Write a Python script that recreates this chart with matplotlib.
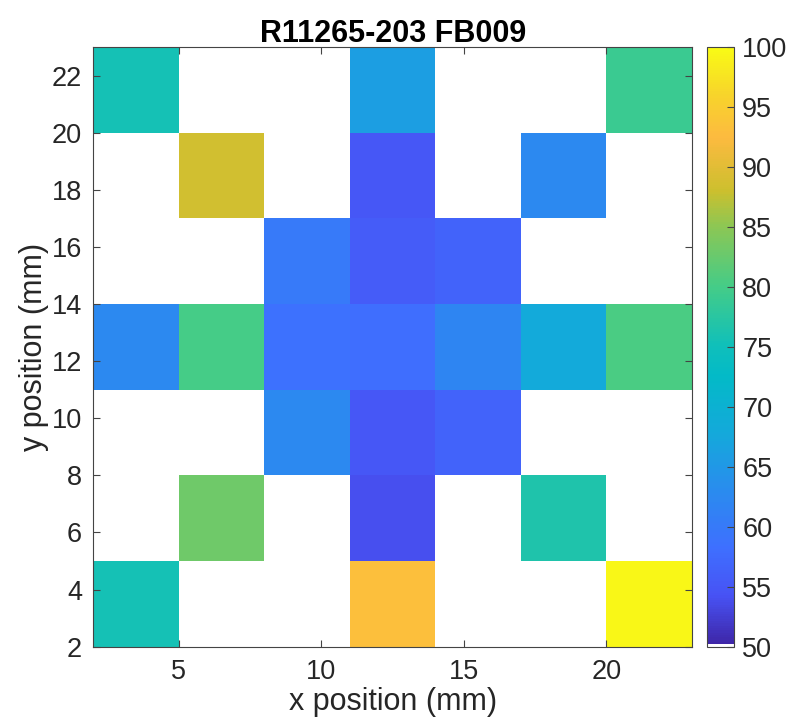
import numpy as np
import matplotlib
matplotlib.use('Agg')
import matplotlib.pyplot as plt
from matplotlib.colors import LinearSegmentedColormap, ListedColormap

plt.rcParams['font.family'] = ['Liberation Sans', 'DejaVu Sans']

# cell edges (mm)
x_edges = [2, 5, 8, 11, 14, 17, 20, 23]
y_edges = [2, 5, 8, 11, 14, 17, 20, 23]

nan = np.nan
# rows from bottom (y=2-5) to top (y=20-23), columns from left to right
row_y2 = [75.5, nan, nan, 93, nan, nan, 99.5]
row_y5 = [nan, 83, nan, 54, nan, 76.5, nan]
row_y8 = [nan, nan, 62.5, 55, 56.5, nan, nan]
row_y11 = [62.5, 80, 58.5, 58, 62, 68, 80.5]
row_y14 = [nan, nan, 60, 55.5, 56.5, nan, nan]
row_y17 = [nan, 88.5, nan, 55, nan, 62.5, nan]
row_y20 = [75.5, nan, nan, 66, nan, nan, 79]

values = np.array([row_y2, row_y5, row_y8, row_y11, row_y14, row_y17, row_y20])

# parula-like colormap, first entry white (as in the original)
anchors = [
    (0.00, (0.2422, 0.1504, 0.6603)),
    (0.08, (0.2810, 0.3228, 0.9579)),
    (0.16, (0.2440, 0.4358, 0.9988)),
    (0.25, (0.1700, 0.5400, 0.9400)),
    (0.35, (0.0800, 0.6600, 0.8600)),
    (0.45, (0.0100, 0.7300, 0.7800)),
    (0.50, (0.0600, 0.7500, 0.7300)),
    (0.60, (0.2700, 0.8000, 0.5300)),
    (0.70, (0.5500, 0.7800, 0.3300)),
    (0.76, (0.8000, 0.7500, 0.1800)),
    (0.85, (0.9900, 0.7300, 0.2500)),
    (0.92, (0.9700, 0.8300, 0.1700)),
    (1.00, (0.9769, 0.9839, 0.0805)),
]
parula = LinearSegmentedColormap.from_list('parula', anchors, N=256)
cols = parula(np.linspace(0, 1, 256))
cols = np.vstack([[1, 1, 1, 1], cols])
cmap = ListedColormap(cols)

fig = plt.figure(figsize=(7.9, 7.25), dpi=100)
ax = fig.add_axes([0.118, 0.108, 0.758, 0.827])
cax = fig.add_axes([0.895, 0.108, 0.034, 0.827])

masked = np.ma.masked_invalid(values)
mesh = ax.pcolormesh(x_edges, y_edges, masked, cmap=cmap, vmin=50, vmax=100)
ax.set_xlim(2, 23)
ax.set_ylim(2, 23)
ax.set_xticks([5, 10, 15, 20])
ax.set_yticks(range(2, 23, 2))
ax.tick_params(direction='in', top=True, right=True, labelsize=19.5, length=5,
               color='#444444', width=0.8, labelcolor='#262626')
ax.tick_params(axis='y', pad=8)
ax.tick_params(axis='x', pad=9)
for s in ax.spines.values():
    s.set_color('#444444')
ax.set_xlabel('x position (mm)', fontsize=22, color='#262626', labelpad=1)
ax.set_ylabel('y position (mm)', fontsize=22, color='#262626', labelpad=2)
ax.set_title('R11265-203 FB009', fontsize=22, fontweight='bold', pad=4)

cb = fig.colorbar(mesh, cax=cax)
cb.set_ticks(range(50, 101, 5))
cb.ax.tick_params(direction='in', labelsize=19.5, length=5, color='#444444',
                  width=0.8, labelcolor='#262626', pad=6)
cb.outline.set_edgecolor('#444444')

fig.savefig('out.png', dpi=100)
